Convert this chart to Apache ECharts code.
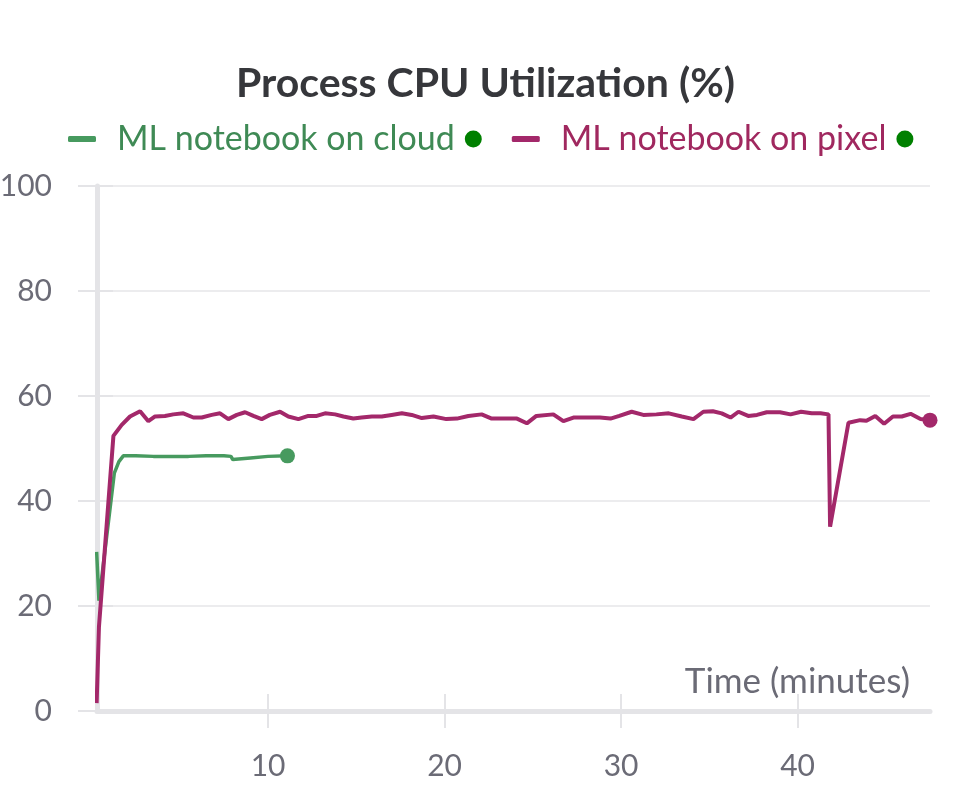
<!DOCTYPE html>
<html>
<head>
<meta charset="utf-8">
<script src="https://cdn.jsdelivr.net/npm/echarts@6/dist/echarts.min.js"></script>
<style>
html,body{margin:0;padding:0;background:#fff;}
#chart{width:971px;height:785px;}
</style>
</head>
<body>
<div id="chart"></div>
<script>
// ---- data ----
const chartTitle = 'Process CPU Utilization (%)';
const seriesNames = ['ML notebook on cloud', 'ML notebook on pixel'];
const xAxisName = 'Time (minutes)';
const xTickValues = [10, 20, 30, 40];
const yTickValues = [0, 20, 40, 60, 80, 100];

const timeCloud = [0.29, 0.42, 1.29, 1.55, 1.8, 2.5, 3.5, 4.5, 5.5, 6.5, 7.5, 7.9, 8.0, 9.0, 10.0, 11.1];
const cpuCloud  = [30.3, 21, 45.3, 47.5, 48.6, 48.6, 48.5, 48.5, 48.5, 48.6, 48.6, 48.5, 47.9, 48.2, 48.5, 48.6];

const timePixel = [0.29, 0.42, 1.24, 1.71, 2.18, 2.75, 3.22, 3.6, 4.16, 4.63, 5.2, 5.77, 6.24, 6.81, 7.28, 7.75,
  8.23, 8.7, 9.17, 9.64, 10.1, 10.68, 11.15, 11.72, 12.28, 12.76, 13.23, 13.8, 14.27, 14.83, 15.3, 15.88,
  16.44, 17.0, 17.58, 18.14, 18.71, 19.37, 20.1, 20.7, 21.35, 22.1, 22.67, 23.3, 24.1, 24.66, 25.2, 26.16,
  26.73, 27.3, 28.06, 28.8, 29.4, 29.9, 30.6, 31.26, 32.0, 32.7, 33.44, 34.1, 34.66, 35.2, 35.7, 36.2,
  36.65, 37.2, 37.7, 38.25, 39.0, 39.6, 40.2, 40.8, 41.3, 41.75, 41.84, 42.88, 43.54, 43.9, 44.4, 44.9,
  45.4, 45.9, 46.4, 46.96, 47.5];
const cpuPixel = [1.5, 16, 52.4, 54.5, 56.1, 57.1, 55.2, 56.1, 56.2, 56.5, 56.7, 55.9, 55.9, 56.4, 56.7, 55.6,
  56.4, 56.9, 56.2, 55.6, 56.4, 57.0, 56.1, 55.6, 56.2, 56.2, 56.7, 56.5, 56.1, 55.7, 55.9, 56.1,
  56.1, 56.4, 56.7, 56.4, 55.8, 56.1, 55.6, 55.7, 56.2, 56.5, 55.7, 55.7, 55.7, 54.8, 56.2, 56.5,
  55.2, 55.9, 55.9, 55.9, 55.7, 56.2, 57.0, 56.4, 56.5, 56.7, 56.1, 55.6, 57.0, 57.1, 56.7, 55.9,
  57.0, 56.2, 56.4, 56.9, 56.9, 56.5, 57.0, 56.7, 56.7, 56.5, 35.1, 54.9, 55.4, 55.3, 56.2, 54.7,
  56.1, 56.1, 56.6, 55.6, 55.4];

// ---- styles ----
const FONT = 'Lato, "Noto Sans", sans-serif';
const colors = ['#479a5f', '#a3286a'];
const textColors = ['#3f8a55', '#a0285f'];
const statusDot = '#008000';
const axisGray = '#e4e4e7';
const gridGray = '#ececee';
const labelGray = '#6b6b76';
const X_MIN = 0.31, X_MAX = 47.5;

function buildData(ts, vs) {
  return ts.map((t, i) => {
    const item = { value: [t, vs[i]] };
    if (i === ts.length - 1) { item.symbol = 'circle'; item.symbolSize = 15; }
    return item;
  });
}

const chart = echarts.init(document.getElementById('chart'), null, { renderer: 'canvas' });

const option = {
  animation: false,
  backgroundColor: '#ffffff',
  title: {
    text: chartTitle,
    left: 'center',
    top: 58,
    textStyle: { fontFamily: FONT, fontSize: 41, fontWeight: 'bold', color: '#36373b' }
  },
  legend: {
    left: 68,
    top: 122,
    padding: 0,
    itemWidth: 28,
    itemHeight: 6,
    itemGap: 30,
    icon: 'roundRect',
    data: seriesNames.map(n => ({ name: n })),
    formatter: function (name) {
      const idx = seriesNames.indexOf(name);
      return '{s' + idx + '|' + name + '}{gap| }{d| }';
    },
    textStyle: {
      fontFamily: FONT,
      fontSize: 34,
      padding: [0, 0, 0, 16],
      rich: {
        s0: { color: textColors[0], fontFamily: FONT, fontSize: 34 },
        s1: { color: textColors[1], fontFamily: FONT, fontSize: 34 },
        gap: { width: 10 },
        d: { width: 17, height: 17, borderRadius: 9, backgroundColor: statusDot }
      }
    }
  },
  grid: { left: 97, right: 41, top: 186, bottom: 74, containLabel: false, outerBoundsMode: 'none' },
  xAxis: [{
    type: 'value',
    min: X_MIN,
    max: X_MAX,
    name: xAxisName,
    nameLocation: 'end',
    nameGap: -20,
    nameTextStyle: {
      fontFamily: FONT, fontSize: 35, color: labelGray,
      align: 'right', verticalAlign: 'bottom', padding: [0, 0, 12, 0]
    },
    axisLine: { show: true, onZero: false, lineStyle: { color: axisGray, width: 5 } },
    axisTick: { show: true, length: 17, customValues: xTickValues, lineStyle: { color: axisGray, width: 2 } },
    axisLabel: {
      customValues: xTickValues, margin: 40,
      fontFamily: FONT, fontSize: 30, color: labelGray
    },
    splitLine: { show: false }
  }, {
    type: 'value',
    position: 'bottom',
    min: X_MIN,
    max: X_MAX,
    axisLine: { show: false },
    axisTick: { show: true, inside: true, length: 17, customValues: xTickValues, lineStyle: { color: axisGray, width: 2 } },
    axisLabel: { show: false },
    splitLine: { show: false }
  }],
  yAxis: [{
    type: 'value',
    min: 0,
    max: 100,
    interval: 20,
    axisLine: { show: true, onZero: false, lineStyle: { color: axisGray, width: 5 } },
    axisTick: { show: true, length: 19, lineStyle: { color: axisGray, width: 2 } },
    axisLabel: { margin: 45, fontFamily: FONT, fontSize: 30, color: labelGray },
    splitLine: { show: true, lineStyle: { color: gridGray, width: 2 } }
  }, {
    type: 'value',
    position: 'left',
    min: 0,
    max: 100,
    interval: 20,
    axisLine: { show: false },
    axisTick: { show: true, inside: true, length: 16, lineStyle: { color: axisGray, width: 2 } },
    axisLabel: { show: false },
    splitLine: { show: false }
  }],
  series: [{
    name: seriesNames[0],
    type: 'line',
    data: buildData(timeCloud, cpuCloud),
    symbol: 'none',
    showSymbol: true,
    color: colors[0],
    lineStyle: { width: 3.5, color: colors[0] },
    z: 3
  }, {
    name: seriesNames[1],
    type: 'line',
    data: buildData(timePixel, cpuPixel),
    symbol: 'none',
    showSymbol: true,
    color: colors[1],
    lineStyle: { width: 4, color: colors[1] },
    z: 4
  }]
};

chart.setOption(option);
</script>
</body>
</html>
